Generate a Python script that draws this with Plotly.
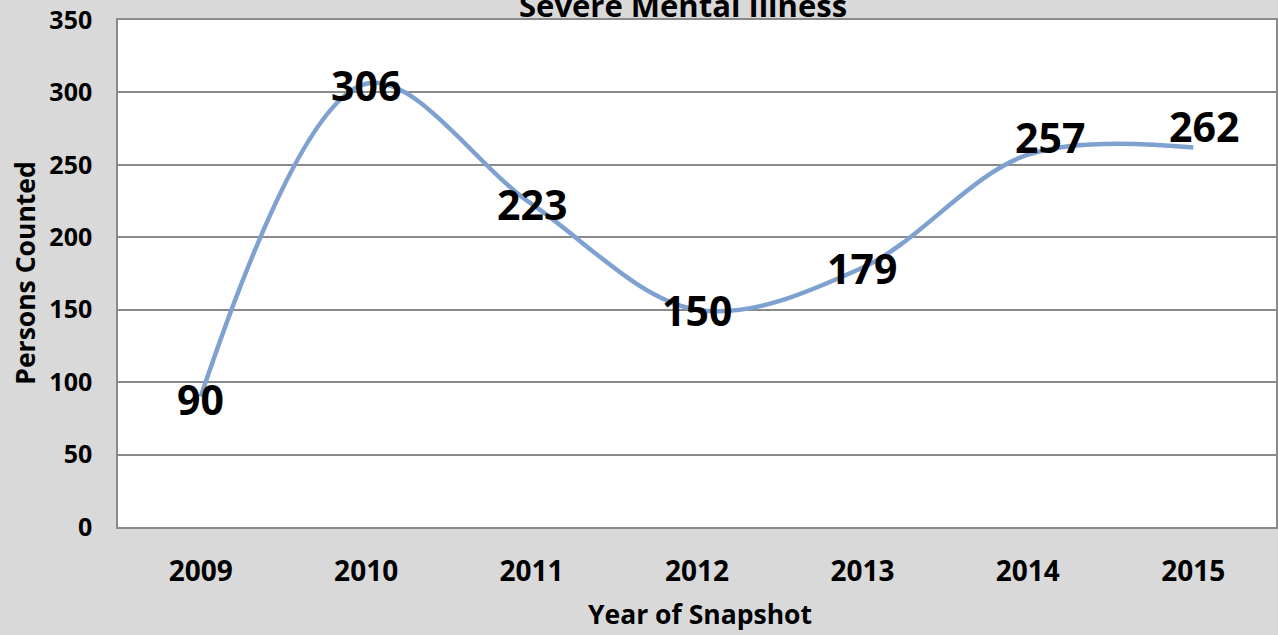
import plotly.graph_objects as go

# Snapshot counts by year
years = ["2009", "2010", "2011", "2012", "2013", "2014", "2015"]
persons = [90, 306, 223, 150, 179, 257, 262]

# Per-label nudges (px) for the value labels
label_dx = [0, 0, 0, 0, 0, 22, 11]
label_dy = [-2, -1, 0, 0, 0, 18, 21]

y_ticks = [0, 50, 100, 150, 200, 250, 300, 350]

FONT = "Open Sans"
BG = "#d9d9d9"
GRID = "#8a8a8a"

fig = go.Figure()

fig.add_trace(go.Scatter(
    x=years,
    y=persons,
    mode="lines",
    line=dict(color="#7ea1d0", width=4.5, shape="spline", smoothing=1.0),
    hoverinfo="x+y",
    showlegend=False,
))

# Value labels on each point (category axis positions given by index)
for i, (v, dx, dy) in enumerate(zip(persons, label_dx, label_dy)):
    fig.add_annotation(
        x=i, y=v, xref="x", yref="y",
        text=f"<b>{v}</b>",
        showarrow=False,
        xanchor="center", yanchor="middle",
        xshift=dx, yshift=dy,
        font=dict(family=FONT, size=41, color="#000000"),
    )

# Chart title (partly above the visible area)
fig.add_annotation(
    x=(684 - 118) / 1160, y=1.03, xref="paper", yref="paper",
    text="<b>Severe Mental Illness</b>",
    showarrow=False, xanchor="center", yanchor="middle",
    font=dict(family=FONT, size=31, color="#000000"),
)

# Axis titles
fig.add_annotation(
    x=0.5025, y=-0.1716, xref="paper", yref="paper",
    text="<b>Year of Snapshot</b>",
    showarrow=False, xanchor="center", yanchor="middle",
    font=dict(family=FONT, size=26.5, color="#000000"),
)
fig.add_annotation(
    x=-0.081, y=0.5, xref="paper", yref="paper",
    text="<b>Persons Counted</b>",
    textangle=-90,
    showarrow=False, xanchor="center", yanchor="middle",
    font=dict(family=FONT, size=26.5, color="#000000"),
)

fig.update_layout(
    width=1278, height=635,
    margin=dict(l=118, r=0, t=20, b=108),
    paper_bgcolor=BG,
    plot_bgcolor="#ffffff",
    font=dict(family=FONT, color="#000000"),
    xaxis=dict(
        type="category",
        categoryorder="array", categoryarray=years,
        range=[-0.5, 6.5],
        showgrid=False,
        showline=True, linecolor=GRID, linewidth=1.5, mirror=True,
        ticks="",
        tickfont=dict(family=FONT, size=28, color="#000000", weight="bold"),
        ticklabelstandoff=19,
        fixedrange=True,
    ),
    yaxis=dict(
        range=[0, 350],
        tickvals=y_ticks,
        ticktext=[f"<b>{t}</b>" for t in y_ticks],
        showgrid=True, gridcolor=GRID, gridwidth=1.5,
        zeroline=False,
        showline=True, linecolor=GRID, linewidth=1.5, mirror=True,
        ticks="",
        tickfont=dict(family=FONT, size=25, color="#000000"),
        ticklabelstandoff=19,
        fixedrange=True,
    ),
)

fig.write_html("out.html")
